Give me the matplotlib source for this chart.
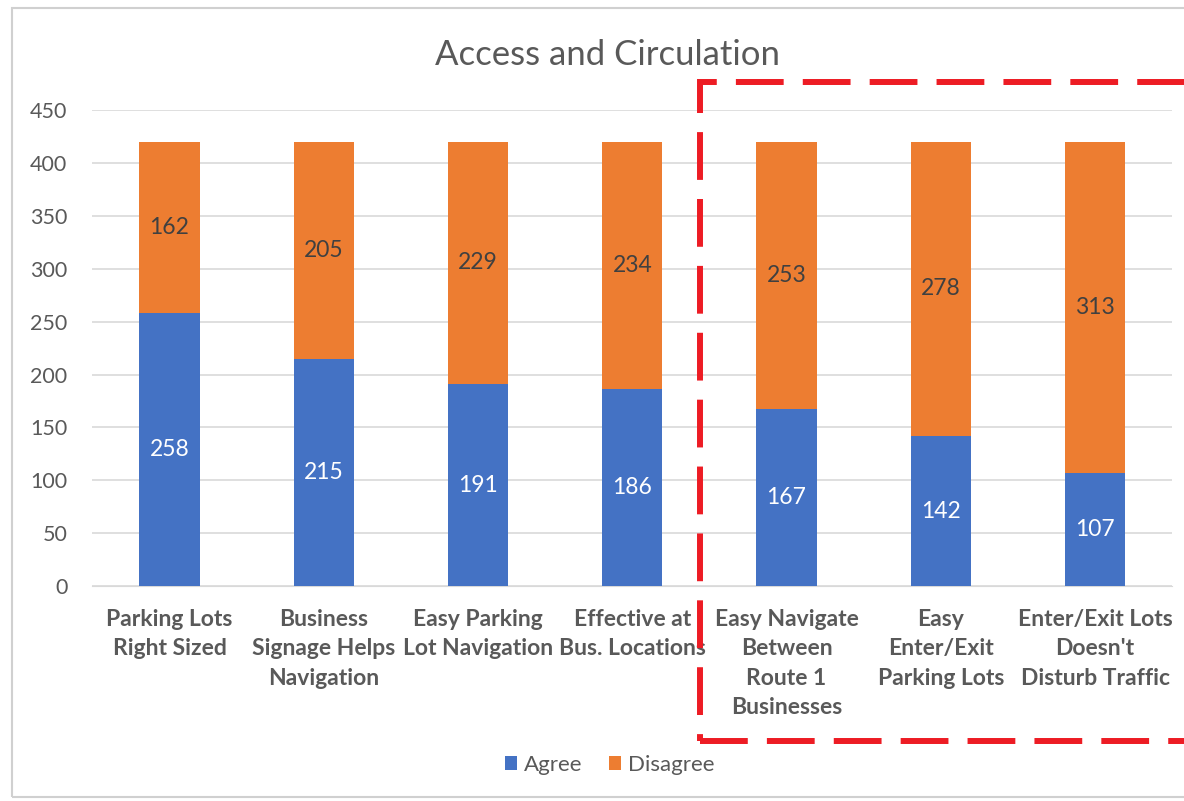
import matplotlib.pyplot as plt
import matplotlib.patches as patches
import numpy as np

# chart data
categories = ['Parking Lots\nRight Sized', 'Business\nSignage Helps\nNavigation',
              'Easy Parking\nLot Navigation', 'Effective at\nBus. Locations',
              'Easy Navigate\nBetween\nRoute 1\nBusinesses', 'Easy\nEnter/Exit\nParking Lots',
              "Enter/Exit Lots\nDoesn't\nDisturb Traffic"]
agree = [258, 215, 191, 186, 167, 142, 107]
disagree = [162, 205, 229, 234, 253, 278, 313]

blue = '#4472C4'
orange = '#ED7D31'
grey = '#595959'

plt.rcParams['font.family'] = ['Lato', 'DejaVu Sans']

fig = plt.figure(figsize=(11.84, 8.01), dpi=100)
ax = fig.add_axes([0.078, 0.268, 0.912, 0.595])

x = np.arange(len(categories))
b1 = ax.bar(x, agree, width=0.39, color=blue, label='Agree', zorder=3)
b2 = ax.bar(x, disagree, width=0.39, bottom=agree, color=orange, label='Disagree', zorder=3)

# data labels in the middle of each segment
for i in range(len(x)):
    ax.text(x[i], agree[i] / 2, str(agree[i]), ha='center', va='center',
            color='white', fontsize=16.5, zorder=4)
    ax.text(x[i], agree[i] + disagree[i] / 2, str(disagree[i]), ha='center', va='center',
            color='#404040', fontsize=16.5, zorder=4)

ax.set_xlim(-0.5, len(x) - 0.5)
ax.set_ylim(0, 450)
ax.set_yticks(range(0, 451, 50))
ax.grid(axis='y', color='#d9d9d9', linewidth=1.2, zorder=0)
for s in ['top', 'right', 'left']:
    ax.spines[s].set_visible(False)
ax.spines['bottom'].set_color('#d9d9d9')
ax.tick_params(axis='both', length=0, colors=grey)
ax.tick_params(axis='y', labelsize=15.5, pad=18)
ax.set_xticks(x)
ax.set_xticklabels(categories, fontsize=16.5, fontweight='bold', color=grey, linespacing=1.5)
ax.tick_params(axis='x', pad=16)

fig.text(0.513, 0.931, 'Access and Circulation', ha='center', va='center',
         fontsize=25, color=grey)

fig.legend(handles=[b1, b2], labels=['Agree', 'Disagree'], loc='center',
           bbox_to_anchor=(0.515, 0.045), ncol=2, frameon=False, fontsize=16,
           handlelength=0.55, handleheight=0.55, columnspacing=1.2, handletextpad=0.3,
           labelcolor=grey)

# outer chart border
fig.add_artist(patches.Rectangle((12 / 1184, 4 / 801), 1.2, 789 / 801,
                                 transform=fig.transFigure, fill=False,
                                 edgecolor='#d0d0d0', linewidth=1.5))

# red dashed highlight box
fig.add_artist(patches.Rectangle((700 / 1184, (801 - 741) / 801), 0.6, 659 / 801,
                                 transform=fig.transFigure, fill=False,
                                 edgecolor='#ED1C24', linewidth=4.3,
                                 linestyle=(0, (8, 3.2)), zorder=10))

fig.savefig('out.png', dpi=100)
